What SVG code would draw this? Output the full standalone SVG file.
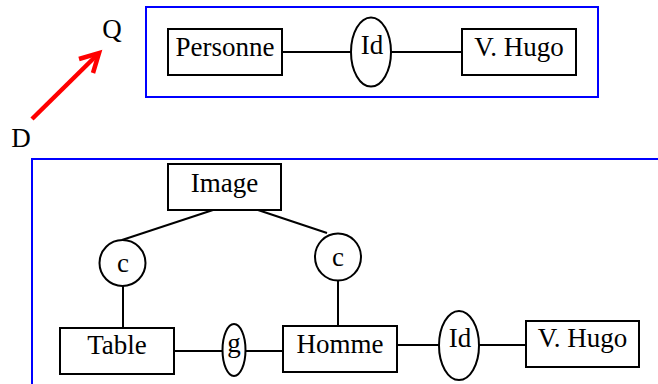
<svg xmlns="http://www.w3.org/2000/svg" width="658" height="384" viewBox="0 0 658 384">
<style>
.frame{fill:none;stroke:#0000ff;stroke-width:2}
.box{fill:#fff;stroke:#000;stroke-width:2}
.ell{fill:#fff;stroke:#000;stroke-width:2}
.ln{stroke:#000;stroke-width:2;fill:none}
</style>
<rect class="frame" x="146" y="7" width="452" height="90"/>
<rect class="frame" x="32" y="159" width="700" height="300"/>
<g font-family="'Liberation Serif', 'Times New Roman', serif" font-size="27" text-anchor="middle" fill="#000">
<text x="112" y="38">Q</text>
<text x="21" y="147">D</text>
<g id="arrow">
<line x1="32" y1="119" x2="97" y2="55" stroke="#ff0000" stroke-width="4.5"/>
<polyline points="79,59 99,53 93,73" fill="none" stroke="#ff0000" stroke-width="4.5"/>
</g>
<g id="connectors">
<line class="ln" x1="282" y1="52" x2="351" y2="52"/>
<line class="ln" x1="391" y1="52" x2="462" y2="52"/>
<line class="ln" x1="213" y1="210" x2="122" y2="240"/>
<line class="ln" x1="258" y1="210" x2="327" y2="233"/>
<line class="ln" x1="123" y1="286" x2="123" y2="328"/>
<line class="ln" x1="338" y1="280" x2="338" y2="326"/>
<line class="ln" x1="174" y1="351" x2="223" y2="351"/>
<line class="ln" x1="245" y1="351" x2="283" y2="351"/>
<line class="ln" x1="396" y1="345" x2="439" y2="345"/>
<line class="ln" x1="479" y1="345" x2="526" y2="345"/>
</g>
<g id="personne"><rect class="box" x="168" y="29" width="114" height="46"/><text x="225" y="56">Personne</text></g>
<g id="id1"><ellipse class="ell" cx="371" cy="52" rx="20" ry="34.5"/><text x="372" y="54">Id</text></g>
<g id="vhugo1"><rect class="box" x="462" y="29" width="114" height="46"/><text x="519" y="56">V. Hugo</text></g>
<g id="image"><rect class="box" x="168" y="164" width="113" height="46"/><text x="224.5" y="192">Image</text></g>
<g id="c1"><circle class="ell" cx="122.5" cy="263" r="23"/><text x="123" y="272">c</text></g>
<g id="c2"><ellipse class="ell" cx="338" cy="257" rx="23" ry="23.5"/><text x="338" y="266">c</text></g>
<g id="table"><rect class="box" x="60" y="328" width="114" height="46"/><text x="117" y="354">Table</text></g>
<g id="g"><ellipse class="ell" cx="234" cy="350" rx="11.5" ry="26"/><text x="234" y="352">g</text></g>
<g id="homme"><rect class="box" x="283" y="326" width="114" height="46"/><text x="340" y="353">Homme</text></g>
<g id="id2"><ellipse class="ell" cx="459" cy="345.5" rx="20" ry="34.5"/><text x="460" y="347">Id</text></g>
<g id="vhugo2"><rect class="box" x="526" y="321" width="113" height="46"/><text x="582.5" y="347">V. Hugo</text></g>
</g>
</svg>
